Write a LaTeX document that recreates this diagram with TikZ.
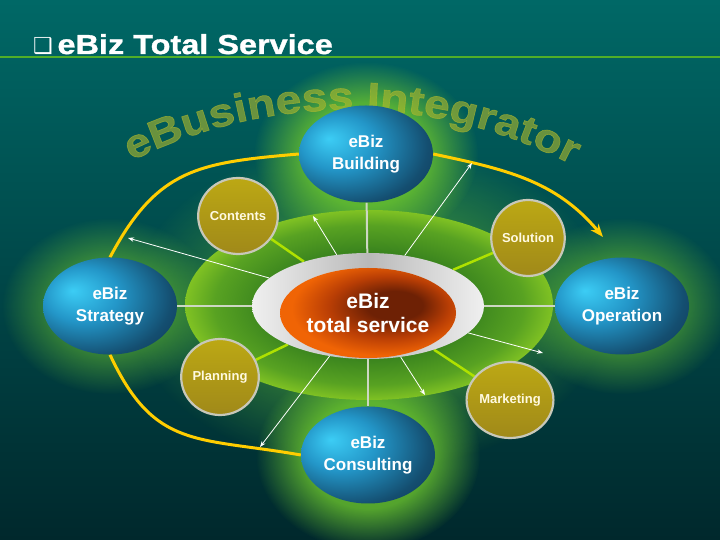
\documentclass[tikz,border=0pt]{standalone}
\usepackage{fontspec}
\setmainfont{Liberation Sans}
\newfontfamily\symfont{DejaVu Sans}
\newfontfamily\headfont[FakeStretch=1.18, FakeBold=1.2]{Liberation Sans}
\newfontfamily\arcfont[FakeStretch=1.15, FakeBold=1.6]{Liberation Sans}
\usetikzlibrary{shapes.geometric,arrows.meta,decorations.text,fadings}

\definecolor{bgtop}{RGB}{0,104,102}
\definecolor{bgbot}{RGB}{0,40,44}
\definecolor{rulegreen}{RGB}{80,175,40}
\definecolor{glowgreen}{RGB}{110,200,45}
\definecolor{arcolive}{RGB}{175,185,45}
\definecolor{arcyellow}{RGB}{255,205,0}
\definecolor{baseA}{RGB}{58,132,30}
\definecolor{baseB}{RGB}{88,162,34}
\definecolor{baseC}{RGB}{128,194,35}
\definecolor{spokegray}{RGB}{205,215,195}
\definecolor{spokelime}{RGB}{175,225,0}
\definecolor{blueA}{RGB}{60,205,245}
\definecolor{blueB}{RGB}{35,150,200}
\definecolor{blueC}{RGB}{20,78,112}
\definecolor{blueD}{RGB}{15,55,85}
\definecolor{coreLight}{RGB}{240,100,5}
\definecolor{coreMid}{RGB}{185,62,5}
\definecolor{coreDark}{RGB}{110,33,5}
\definecolor{oliveA}{RGB}{188,168,20}
\definecolor{oliveB}{RGB}{160,137,25}
\definecolor{rimgray}{RGB}{200,200,185}
\definecolor{labelcream}{RGB}{255,250,225}

\pgfdeclareradialshading{bluesphere}{\pgfpoint{-14bp}{8bp}}{color(0bp)=(blueA); color(14bp)=(blueB); color(30bp)=(blueC); color(40bp)=(blueD); color(60bp)=(blueD)}
\pgfdeclareradialshading{coreshade}{\pgfpoint{9bp}{5bp}}{color(0bp)=(coreDark); color(8bp)=(coreDark); color(17bp)=(coreMid); color(26bp)=(coreLight); color(50bp)=(coreLight)}
\pgfdeclareradialshading{baseshade}{\pgfpointorigin}{color(0bp)=(baseA); color(14bp)=(baseA); color(21bp)=(baseB); color(25bp)=(baseC); color(50bp)=(baseC)}
\pgfdeclareradialshading{glowmask}{\pgfpointorigin}{color(0bp)=(transparent!0); color(14bp)=(transparent!15); color(25bp)=(transparent!100); color(50bp)=(transparent!100)}
\pgfdeclarefading{glowfade}{\pgfuseshading{glowmask}}

\pgfdeclarelayer{bg}
\pgfdeclarelayer{mid}
\pgfsetlayers{bg,mid,main}

\tikzset{
  bignode/.style={ellipse, shading=bluesphere, minimum width=134pt, minimum height=97pt, inner sep=0pt,
    text=white, font=\bfseries\fontsize{17}{22}\selectfont, align=center},
  subnode/.style={ellipse, draw=rimgray, line width=2.2pt, top color=oliveA, bottom color=oliveB,
    minimum width=71pt, minimum height=76pt, inner sep=0pt, text=labelcream, font=\bfseries\fontsize{13}{15}\selectfont},
  spoke/.style={spokegray, line width=2pt},
  limespoke/.style={spokelime, line width=2.5pt},
  ptr/.style={white, line width=0.8pt, -{Stealth[length=6pt,width=4.5pt]}},
  orbit/.style={arcyellow, line width=3pt},
  glow/.style={glowgreen, path fading=glowfade}
}

\begin{document}
\begin{tikzpicture}[x=1pt, y=1pt]
        \useasboundingbox (0,0) rectangle (720,540);

        % Define the background and the title
        \begin{pgfonlayer}{bg}
        \shade[top color=bgtop, bottom color=bgbot] (0,0) rectangle (720,540);
        \end{pgfonlayer}
        \node[anchor=base west, text=white, inner sep=0pt, font=\headfont\bfseries\fontsize{27.5}{27.5}\selectfont] (title) at (33,486) {{\symfont\mdseries\fontsize{22}{22}\selectfont ❑}\,eBiz Total Service};
        \draw[rulegreen, line width=1.2pt] (0,483) -- (720,483);

        % Define the outer services
        \node[bignode] (building) at (366,386) {eBiz\\Building};
        \node[bignode] (strategy) at (110,234) {eBiz\\Strategy};
        \node[bignode] (operation) at (622,234) {eBiz\\Operation};
        \node[bignode] (consulting) at (368,85) {eBiz\\Consulting};

        % Define the centre
        \node[ellipse, left color=gray!12, right color=gray!12, middle color=gray!55, minimum width=232pt, minimum height=106pt] (ring) at (368,234) {};
        \node[ellipse, shading=coreshade, minimum width=176pt, minimum height=90pt, inner sep=0pt,
          text=white, font=\bfseries\fontsize{21}{23}\selectfont, align=center] (core) at (368,227) {eBiz\\total service};

        % Define the small topics
        \node[subnode] (contents) at (238,324) {Contents};
        \node[subnode] (solution) at (528,302) {Solution};
        \node[subnode] (planning) at (220,163) {Planning};
        \node[subnode] (marketing) at (510,140) {Marketing};

        % Free ends of the arrows
        \coordinate (tipL) at (128,302);
        \coordinate (tipUL) at (313,324);
        \coordinate (tipUR) at (472,377);
        \coordinate (tipR) at (543,187);
        \coordinate (tipDL) at (260,93);
        \coordinate (tipDR) at (425,145);
        \coordinate (orbitend) at (603,303);

        % Glow and arc text
        \begin{pgfonlayer}{bg}
        \fill[glow, opacity=0.45] (369,235) ellipse [x radius=240pt, y radius=165pt];
        \fill[glow, opacity=0.9] (building) ellipse [x radius=112pt, y radius=92pt];
        \fill[glow, opacity=0.9] (consulting) ellipse [x radius=112pt, y radius=95pt];
        \fill[glow, opacity=0.55] (strategy) ellipse [x radius=108pt, y radius=88pt];
        \fill[glow, opacity=0.55] (operation) ellipse [x radius=108pt, y radius=88pt];
        \begin{scope}[opacity=0.6]
        \path[decorate, decoration={text along path, text color=arcolive, text align=center,
          text={|\arcfont\bfseries\fontsize{40}{40}\selectfont|eBusiness Integrator}}]
          (348,-55) ++(118:485) arc[start angle=118, end angle=61, radius=485];
        \end{scope}
        \end{pgfonlayer}

        % Define the edges
        \begin{pgfonlayer}{mid}
        \node[ellipse, shading=baseshade, minimum width=368pt, minimum height=190pt] (base) at (369,235) {};
        \foreach \n in {building,strategy,operation,consulting}
          \draw[spoke] (ring) -- (\n);
        \foreach \n in {contents,solution,planning,marketing}
          \draw[limespoke] (ring) -- (\n);
        \draw[orbit] (strategy.north) to[out=62, in=185, looseness=1.2] (building.west);
        \draw[orbit, -{Stealth[length=13pt,width=10pt]}] (building.east) to[out=-12, in=130] (orbitend);
        \draw[orbit] (strategy.south) to[out=-65, in=170, looseness=1.25] (consulting.west);
        \end{pgfonlayer}

        \foreach \t in {tipL,tipUL,tipUR,tipR,tipDL,tipDR}
          \draw[ptr] (ring) -- (\t);

    \end{tikzpicture}
\end{document}
